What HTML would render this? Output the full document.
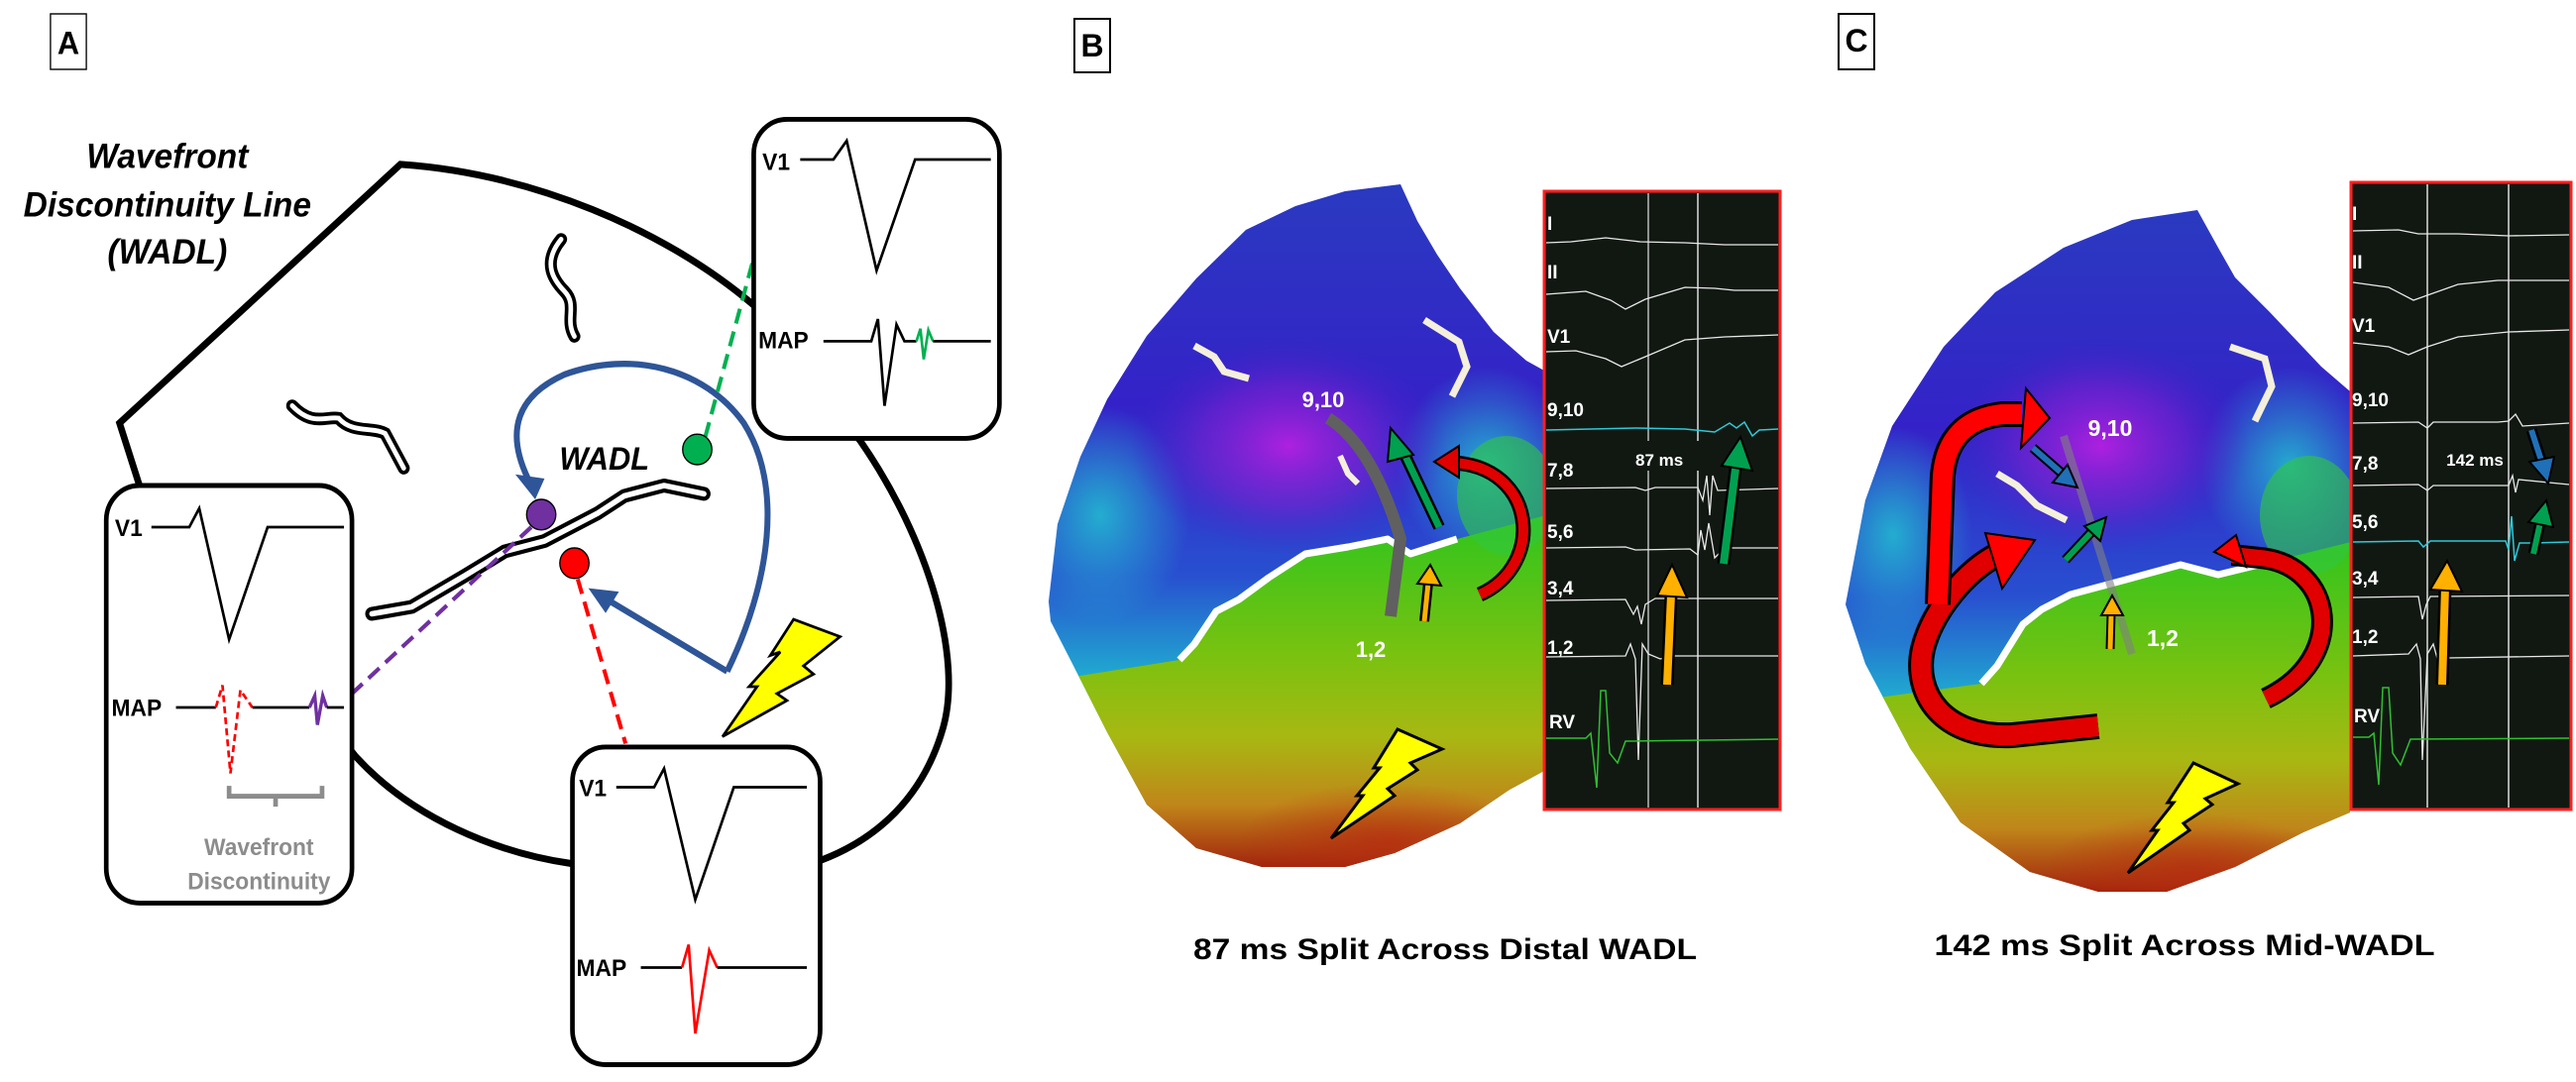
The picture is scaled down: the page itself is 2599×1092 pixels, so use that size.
<!DOCTYPE html>
<html><head><meta charset="utf-8"><style>
html,body{margin:0;padding:0;background:#fff;}
svg{display:block;}
text{font-family:"Liberation Sans",sans-serif;font-weight:bold;}
</style></head><body>
<svg width="2599" height="1092" viewBox="0 0 2599 1092" xmlns="http://www.w3.org/2000/svg">
<defs>
<linearGradient id="tgB" gradientUnits="userSpaceOnUse" x1="0" y1="186" x2="0" y2="680">
<stop offset="0" stop-color="#2a3ac0"/>
<stop offset="0.45" stop-color="#3422c8"/>
<stop offset="0.8" stop-color="#2850d0"/>
<stop offset="1" stop-color="#20a8d0"/>
</linearGradient>
<linearGradient id="bgB" gradientUnits="userSpaceOnUse" x1="0" y1="540" x2="0" y2="880">
<stop offset="0" stop-color="#38c41c"/>
<stop offset="0.35" stop-color="#78c210"/>
<stop offset="0.6" stop-color="#a8b812"/>
<stop offset="0.8" stop-color="#c0861a"/>
<stop offset="1" stop-color="#a01c0c"/>
</linearGradient>
<linearGradient id="tgC" gradientUnits="userSpaceOnUse" x1="0" y1="212" x2="0" y2="700">
<stop offset="0" stop-color="#2a3ac0"/>
<stop offset="0.45" stop-color="#3422c8"/>
<stop offset="0.8" stop-color="#2850d0"/>
<stop offset="1" stop-color="#20a8d0"/>
</linearGradient>
<linearGradient id="bgC" gradientUnits="userSpaceOnUse" x1="0" y1="560" x2="0" y2="905">
<stop offset="0" stop-color="#38c41c"/>
<stop offset="0.35" stop-color="#78c210"/>
<stop offset="0.6" stop-color="#a8b812"/>
<stop offset="0.8" stop-color="#c0861a"/>
<stop offset="1" stop-color="#a01c0c"/>
</linearGradient>
<radialGradient id="pg"><stop offset="0" stop-color="#b420e0" stop-opacity="0.95"/><stop offset="0.55" stop-color="#7a20d0" stop-opacity="0.6"/><stop offset="1" stop-color="#4020c8" stop-opacity="0"/></radialGradient>
<radialGradient id="cg"><stop offset="0" stop-color="#22c0d0" stop-opacity="0.85"/><stop offset="1" stop-color="#22c0d0" stop-opacity="0"/></radialGradient>
<radialGradient id="rg"><stop offset="0" stop-color="#b82a10" stop-opacity="0.7"/><stop offset="1" stop-color="#b82a10" stop-opacity="0"/></radialGradient>
<clipPath id="cb"><path d="M1058,607 L1067,529 L1090,461 L1117,403 L1157,339 L1207,281 L1257,232 L1307,208 L1357,193 L1413,186 L1430,223 L1450,257 L1473,291 L1507,335 L1540,364 L1558,374 L1558,778 L1523,797 L1473,831 L1407,861 L1357,875 L1273,875 L1207,856 L1157,812 L1117,739 L1080,666 L1060,627 Z"/></clipPath>
<clipPath id="cc"><path d="M1862,610 L1882,505 L1909,430 L1961,350 L2013,295 L2082,250 L2151,222 L2217,212 L2238,250 L2255,280 L2290,315 L2342,370 L2371,395 L2371,820 L2324,840 L2255,875 L2186,900 L2117,900 L2048,880 L1978,830 L1927,755 L1882,670 Z"/></clipPath>
</defs>

<!-- ===== Panel A ===== -->
<g transform="scale(0.67,0.70)">
<rect x="76" y="20" width="54" height="80" fill="#fff" stroke="#000" stroke-width="2"/>
<text x="103" y="78" font-size="46" text-anchor="middle">A</text>
<g font-style="italic" font-size="50" text-anchor="middle">
<text x="252" y="242">Wavefront</text>
<text x="252" y="312">Discontinuity Line</text>
<text x="252" y="380">(WADL)</text>
</g>
<path d="M210,700 L180,610 L603,237 C800,250 1000,330 1135,440 L1295,635 C1400,780 1450,950 1420,1050 C1390,1150 1320,1210 1237,1240 L860,1245 C750,1230 620,1180 535,1090 Z" fill="none" stroke="#000" stroke-width="10"/>
<path d="M845,345 C815,380 835,405 850,420 C870,440 850,460 865,485" fill="none" stroke="#000" stroke-width="18" stroke-linecap="round"/>
<path d="M845,345 C815,380 835,405 850,420 C870,440 850,460 865,485" fill="none" stroke="#fff" stroke-width="7" stroke-linecap="round"/>
<path d="M440,585 C470,615 490,600 510,603 C530,625 560,615 580,625 L608,675" fill="none" stroke="#000" stroke-width="18" stroke-linecap="round"/>
<path d="M440,585 C470,615 490,600 510,603 C530,625 560,615 580,625 L608,675" fill="none" stroke="#fff" stroke-width="7" stroke-linecap="round"/>
<path d="M560,885 L620,875 L700,830 L760,795 L820,780 L900,740 L940,715 L1000,700 L1060,712" fill="none" stroke="#000" stroke-width="20" stroke-linecap="round" stroke-linejoin="round"/>
<path d="M560,885 L620,875 L700,830 L760,795 L820,780 L900,740 L940,715 L1000,700 L1060,712" fill="none" stroke="#fff" stroke-width="8" stroke-linecap="round" stroke-linejoin="round"/>
<text x="910" y="677" font-size="46" font-style="italic" text-anchor="middle">WADL</text>
<path d="M1095,968 C1160,840 1180,700 1120,610 C1060,530 950,505 850,540 C780,570 760,620 795,690" fill="none" stroke="#2e5597" stroke-width="9"/>
<polygon points="776,684 820,690 806,720" fill="#2e5597"/>
<path d="M1095,968 L910,862" fill="none" stroke="#2e5597" stroke-width="9"/>
<polygon points="886,848 932,853 912,884" fill="#2e5597"/>
<line x1="800" y1="760" x2="530" y2="1000" stroke="#7030a0" stroke-width="6" stroke-dasharray="22,12"/>
<line x1="870" y1="835" x2="942" y2="1072" stroke="#ff0000" stroke-width="6" stroke-dasharray="22,12"/>
<line x1="1062" y1="630" x2="1137" y2="365" stroke="#00b050" stroke-width="6" stroke-dasharray="22,12"/>
<circle cx="815" cy="742" r="22" fill="#7030a0" stroke="#000" stroke-width="2"/>
<circle cx="865" cy="812" r="22" fill="#ff0000" stroke="#000" stroke-width="2"/>
<circle cx="1050" cy="648" r="22" fill="#00b050" stroke="#000" stroke-width="2"/>
<polygon points="1195,893 1265,918 1210,960 1225,972 1170,1000 1185,1010 1088,1062 1140,990 1128,990 1175,940 1160,945" fill="#ffff00" stroke="#000" stroke-width="4"/>
<rect x="1135" y="172" width="370" height="460" rx="50" fill="#fff" stroke="#000" stroke-width="7"/>
<text x="1148" y="245" font-size="34">V1</text>
<polyline points="1205,230 1255,230 1275,203 1320,390 1378,230 1492,230" fill="none" stroke="#000" stroke-width="4"/>
<text x="1142" y="502" font-size="34">MAP</text>
<polyline points="1240,492 1312,492 1322,460 1332,585 1350,468 1362,492 1380,492" fill="none" stroke="#000" stroke-width="4"/>
<polyline points="1380,492 1386,474 1391,518 1398,476 1405,492" fill="none" stroke="#00b050" stroke-width="4"/>
<line x1="1405" y1="492" x2="1492" y2="492" stroke="#000" stroke-width="4"/>
<rect x="160" y="700" width="370" height="602" rx="50" fill="#fff" stroke="#000" stroke-width="7"/>
<text x="173" y="773" font-size="34">V1</text>
<polyline points="228,760 285,760 300,733 345,922 403,760 518,760" fill="none" stroke="#000" stroke-width="4"/>
<text x="168" y="1032" font-size="34">MAP</text>
<line x1="265" y1="1020" x2="325" y2="1020" stroke="#000" stroke-width="4"/>
<polyline points="325,1020 335,988 347,1115 362,995 380,1020" fill="none" stroke="#ff0000" stroke-width="4" stroke-dasharray="10,6"/>
<line x1="380" y1="1020" x2="466" y2="1020" stroke="#000" stroke-width="4"/>
<polyline points="466,1020 474,1003 478,1045 486,1003 492,1020" fill="none" stroke="#7030a0" stroke-width="5"/>
<line x1="492" y1="1020" x2="518" y2="1020" stroke="#000" stroke-width="4"/>
<polyline points="345,1133 345,1148 485,1148 485,1133" fill="none" stroke="#8c8c8c" stroke-width="7"/>
<line x1="415" y1="1148" x2="415" y2="1163" stroke="#8c8c8c" stroke-width="7"/>
<text x="390" y="1233" font-size="34" fill="#8c8c8c" text-anchor="middle">Wavefront</text>
<text x="390" y="1282" font-size="34" fill="#8c8c8c" text-anchor="middle">Discontinuity</text>
<rect x="862" y="1077" width="373" height="458" rx="50" fill="#fff" stroke="#000" stroke-width="7"/>
<text x="872" y="1148" font-size="34">V1</text>
<polyline points="928,1135 985,1135 1000,1108 1047,1297 1105,1135 1215,1135" fill="none" stroke="#000" stroke-width="4"/>
<text x="868" y="1407" font-size="34">MAP</text>
<polyline points="965,1395 1027,1395" fill="none" stroke="#000" stroke-width="4"/>
<polyline points="1027,1395 1037,1362 1047,1490 1068,1370 1080,1395" fill="none" stroke="#ff0000" stroke-width="4"/>
<line x1="1080" y1="1395" x2="1215" y2="1395" stroke="#000" stroke-width="4"/>
</g>

<!-- ===== Panel B ===== -->
<rect x="1084" y="19" width="36" height="54" fill="#fff" stroke="#000" stroke-width="2"/>
<text x="1102" y="57" font-size="32" text-anchor="middle">B</text>
<g clip-path="url(#cb)">
<rect x="1050" y="180" width="520" height="700" fill="url(#tgB)"/>
<ellipse cx="1110" cy="520" rx="90" ry="110" fill="url(#cg)"/>
<ellipse cx="1500" cy="470" rx="90" ry="100" fill="url(#cg)"/>
<ellipse cx="1300" cy="450" rx="160" ry="110" fill="url(#pg)"/>
<path d="M1040,690 L1190,666 L1227,617 L1280,583 L1317,559 L1400,544 L1423,559 L1470,544 L1560,520 L1560,900 L1040,900 Z" fill="url(#bgB)"/>
<ellipse cx="1520" cy="500" rx="50" ry="60" fill="#30c840" opacity="0.6"/>
<ellipse cx="1400" cy="850" rx="150" ry="60" fill="url(#rg)"/>
</g>
<path d="M1190,666 L1205,650 L1227,617 L1250,605 L1280,583 L1317,559 L1360,552 L1400,544 L1423,559 L1470,544" fill="none" stroke="#fff" stroke-width="7" stroke-linejoin="round"/>
<path d="M1205,349 L1225,360 L1235,375 L1260,382" fill="none" stroke="#f4f0dc" stroke-width="7"/>
<path d="M1437,323 L1472,345 L1480,370 L1465,400" fill="none" stroke="#f4f0dc" stroke-width="7"/>
<path d="M1352,460 L1360,478 L1370,488" fill="none" stroke="#f4f0dc" stroke-width="6"/>
<path d="M1340,422 Q1385,450 1413,544 L1403,622" fill="none" stroke="#606060" stroke-width="12"/>
<text x="1335" y="411" font-size="22" fill="#fff" text-anchor="middle">9,10</text>
<text x="1383" y="663" font-size="22" fill="#fff" text-anchor="middle">1,2</text>
<path d="M1493,600 C1560,570 1550,470 1465,467" fill="none" stroke="#000" stroke-width="15"/>
<path d="M1493,600 C1560,570 1550,470 1465,467" fill="none" stroke="#e00000" stroke-width="10"/>
<polygon points="1447,466 1472,450 1472,482" fill="#e00000" stroke="#000" stroke-width="2"/>
<line x1="1452" y1="532" x2="1414" y2="452" stroke="#000" stroke-width="12"/>
<line x1="1452" y1="532" x2="1414" y2="452" stroke="#00a050" stroke-width="7"/>
<polygon points="1403,432 1426,459 1400,466" fill="#00a050" stroke="#000" stroke-width="2"/>
<line x1="1437" y1="627" x2="1441" y2="588" stroke="#000" stroke-width="10"/>
<line x1="1437" y1="627" x2="1441" y2="588" stroke="#ffb000" stroke-width="5"/>
<polygon points="1443,570 1454,591 1430,589" fill="#ffb000" stroke="#000" stroke-width="2"/>
<polygon points="1410,736 1455,756 1423,770 1430,777 1400,796 1407,803 1343,846 1375,803 1369,803 1392,775 1386,775" fill="#ffff00" stroke="#000" stroke-width="3"/>
<rect x="1558" y="193" width="238" height="624" fill="#111812" stroke="#ff2020" stroke-width="3"/>
<line x1="1663" y1="195" x2="1663" y2="815" stroke="#bbb" stroke-width="1.5"/>
<line x1="1713" y1="195" x2="1713" y2="815" stroke="#ddd" stroke-width="1.5"/>
<rect x="1640" y="445" width="80" height="30" fill="#111812"/>
<g fill="#fff" font-size="19">
<text x="1561" y="232">I</text><text x="1561" y="281">II</text><text x="1561" y="346">V1</text>
<text x="1561" y="420">9,10</text><text x="1561" y="481">7,8</text><text x="1561" y="543">5,6</text>
<text x="1561" y="600">3,4</text><text x="1561" y="660">1,2</text><text x="1563" y="735">RV</text>
<text x="1650" y="470" font-size="17">87 ms</text>
</g>
<g fill="none" stroke="#e8e8e8" stroke-width="1.3">
<polyline points="1560,245 1585,244 1620,240 1655,244 1700,245 1740,247 1794,247"/>
<polyline points="1560,297 1600,294 1625,303 1640,312 1660,302 1700,290 1730,291 1750,293 1794,293"/>
<polyline points="1560,355 1590,354 1620,362 1636,370 1660,360 1700,343 1740,340 1794,338"/>
<polyline points="1560,493 1650,492 1660,495 1670,492 1713,492 1718,505 1722,480 1725,520 1728,480 1733,495 1794,493"/>
<polyline points="1560,553 1640,552 1650,555 1705,554 1713,560 1716,535 1720,555 1724,528 1730,563 1740,553 1794,553"/>
<polyline points="1560,606 1640,605 1648,620 1652,612 1656,630 1660,610 1670,604 1794,604"/>
<polyline points="1560,663 1640,662 1645,650 1650,665 1653,767 1657,650 1663,660 1675,665 1690,662 1794,662"/>
</g>
<polyline points="1560,434 1650,432 1700,433 1730,436 1745,427 1752,432 1760,426 1768,440 1775,434 1794,433" fill="none" stroke="#30c8d8" stroke-width="1.5"/>
<polyline points="1560,745 1600,745 1605,740 1611,795 1615,697 1620,697 1624,760 1632,770 1640,748 1794,746" fill="none" stroke="#30c030" stroke-width="1.5"/>
<line x1="1682" y1="691" x2="1686" y2="600" stroke="#000" stroke-width="13"/>
<line x1="1682" y1="691" x2="1686" y2="600" stroke="#ffb000" stroke-width="8"/>
<polygon points="1687,570 1702,603 1672,601" fill="#ffb000" stroke="#000" stroke-width="2"/>
<line x1="1739" y1="569" x2="1752" y2="465" stroke="#000" stroke-width="13"/>
<line x1="1739" y1="569" x2="1752" y2="465" stroke="#00a050" stroke-width="8"/>
<polygon points="1756,441 1768,475 1737,470" fill="#00a050" stroke="#000" stroke-width="2"/>
<text x="1458" y="968" font-size="30" text-anchor="middle" textLength="508" lengthAdjust="spacingAndGlyphs">87 ms Split Across Distal WADL</text>

<!-- ===== Panel C ===== -->
<rect x="1855" y="14" width="36" height="56" fill="#fff" stroke="#000" stroke-width="2"/>
<text x="1873" y="52" font-size="32" text-anchor="middle">C</text>
<g clip-path="url(#cc)">
<rect x="1850" y="200" width="530" height="710" fill="url(#tgC)"/>
<ellipse cx="1910" cy="540" rx="80" ry="110" fill="url(#cg)"/>
<ellipse cx="2310" cy="470" rx="90" ry="100" fill="url(#cg)"/>
<ellipse cx="2120" cy="450" rx="150" ry="110" fill="url(#pg)"/>
<path d="M1850,710 L1999,690 L2041,630 L2089,600 L2145,585 L2200,570 L2238,580 L2279,570 L2380,545 L2380,910 L1850,910 Z" fill="url(#bgC)"/>
<ellipse cx="2330" cy="520" rx="50" ry="60" fill="#30c840" opacity="0.6"/>
<ellipse cx="2210" cy="880" rx="150" ry="60" fill="url(#rg)"/>
</g>
<path d="M1999,690 L2015,672 L2041,630 L2060,615 L2089,600 L2145,585 L2200,570 L2238,580 L2279,570" fill="none" stroke="#fff" stroke-width="7" stroke-linejoin="round"/>
<path d="M2015,478 L2035,490 L2055,510 L2085,525" fill="none" stroke="#f4f0dc" stroke-width="7"/>
<path d="M2250,350 L2285,362 L2292,390 L2275,425" fill="none" stroke="#f4f0dc" stroke-width="7"/>
<path d="M2082,440 L2151,660" fill="none" stroke="#808080" stroke-width="8" opacity="0.6"/>
<text x="2129" y="440" font-size="23" fill="#fff" text-anchor="middle">9,10</text>
<text x="2182" y="652" font-size="23" fill="#fff" text-anchor="middle">1,2</text>
<g fill="none" stroke-linejoin="round">
<path d="M2117,733 L2030,742 C1960,745 1930,700 1940,655 C1950,615 1985,575 2015,560" stroke="#000" stroke-width="26"/>
<path d="M2117,733 L2030,742 C1960,745 1930,700 1940,655 C1950,615 1985,575 2015,560" stroke="#e00000" stroke-width="20"/>
<path d="M1955,610 L1960,480 Q1965,424 2020,418 L2040,418" stroke="#000" stroke-width="26"/>
<path d="M1955,610 L1960,480 Q1965,424 2020,418 L2040,418" stroke="#ff0000" stroke-width="20"/>
<path d="M2286,705 C2370,665 2355,570 2280,563 L2252,560" stroke="#000" stroke-width="22"/>
<path d="M2286,705 C2370,665 2355,570 2280,563 L2252,560" stroke="#e00000" stroke-width="16"/>
</g>
<polygon points="2044,392 2068,422 2039,452" fill="#ff0000" stroke="#000" stroke-width="2"/>
<polygon points="2003,538 2053,545 2020,594" fill="#ff0000" stroke="#000" stroke-width="2"/>
<polygon points="2256,540 2234,557 2266,572" fill="#ff0000" stroke="#000" stroke-width="2"/>
<line x1="2051" y1="452" x2="2083" y2="480" stroke="#000" stroke-width="10"/>
<line x1="2051" y1="452" x2="2083" y2="480" stroke="#2070b8" stroke-width="6"/>
<polygon points="2096,492 2071,487 2086,469" fill="#2070b8" stroke="#000" stroke-width="2"/>
<line x1="2084" y1="565" x2="2112" y2="535" stroke="#000" stroke-width="10"/>
<line x1="2084" y1="565" x2="2112" y2="535" stroke="#00a050" stroke-width="6"/>
<polygon points="2125,522 2119,546 2103,531" fill="#00a050" stroke="#000" stroke-width="2"/>
<line x1="2129" y1="655" x2="2130" y2="620" stroke="#000" stroke-width="9"/>
<line x1="2129" y1="655" x2="2130" y2="620" stroke="#ffb000" stroke-width="5"/>
<polygon points="2131,601 2142,621 2120,621" fill="#ffb000" stroke="#000" stroke-width="2"/>
<polygon points="2213,770 2258,791 2225,806 2232,812 2203,831 2209,838 2147,881 2177,838 2171,838 2193,810 2187,810" fill="#ffff00" stroke="#000" stroke-width="3"/>
<rect x="2372" y="184" width="222" height="633" fill="#111812" stroke="#ff2020" stroke-width="3"/>
<line x1="2449" y1="186" x2="2449" y2="815" stroke="#ddd" stroke-width="1.5"/>
<line x1="2531" y1="186" x2="2531" y2="815" stroke="#ddd" stroke-width="1.5"/>
<rect x="2455" y="450" width="72" height="28" fill="#111812"/>
<g fill="#fff" font-size="19">
<text x="2373" y="222">I</text><text x="2373" y="271">II</text><text x="2373" y="335">V1</text>
<text x="2373" y="410">9,10</text><text x="2373" y="474">7,8</text><text x="2373" y="533">5,6</text>
<text x="2373" y="590">3,4</text><text x="2373" y="649">1,2</text><text x="2375" y="729">RV</text>
<text x="2497" y="470" font-size="17" text-anchor="middle">142 ms</text>
</g>
<g fill="none" stroke="#e8e8e8" stroke-width="1.3">
<polyline points="2374,233 2420,232 2440,236 2480,236 2531,238 2592,237"/>
<polyline points="2374,285 2410,290 2435,303 2449,298 2480,287 2520,283 2592,283"/>
<polyline points="2374,346 2410,350 2430,358 2449,350 2480,340 2531,335 2592,333"/>
<polyline points="2374,427 2440,426 2449,432 2455,426 2520,426 2531,425 2538,418 2545,430 2592,427"/>
<polyline points="2374,490 2440,489 2449,495 2455,490 2531,490 2535,480 2538,497 2541,484 2592,489"/>
<polyline points="2374,603 2440,602 2444,625 2448,610 2452,602 2592,601"/>
<polyline points="2374,662 2430,660 2438,650 2442,665 2444,767 2449,660 2455,650 2460,668 2470,664 2592,662"/>
</g>
<polyline points="2374,547 2440,546 2445,552 2452,546 2528,546 2531,555 2534,521 2537,566 2542,548 2555,548 2592,547" fill="none" stroke="#30c8d8" stroke-width="1.5"/>
<polyline points="2374,744 2390,744 2395,740 2400,792 2404,694 2410,694 2414,760 2422,772 2432,746 2592,745" fill="none" stroke="#30c030" stroke-width="1.5"/>
<line x1="2464" y1="691" x2="2467" y2="592" stroke="#000" stroke-width="13"/>
<line x1="2464" y1="691" x2="2467" y2="592" stroke="#ffb000" stroke-width="8"/>
<polygon points="2469,566 2484,597 2452,595" fill="#ffb000" stroke="#000" stroke-width="2"/>
<line x1="2554" y1="434" x2="2565" y2="468" stroke="#000" stroke-width="11"/>
<line x1="2554" y1="434" x2="2565" y2="468" stroke="#2070b8" stroke-width="6"/>
<polygon points="2571,488 2552,466 2577,461" fill="#2070b8" stroke="#000" stroke-width="2"/>
<line x1="2556" y1="559" x2="2563" y2="527" stroke="#000" stroke-width="11"/>
<line x1="2556" y1="559" x2="2563" y2="527" stroke="#00a050" stroke-width="6"/>
<polygon points="2569,505 2576,532 2551,527" fill="#00a050" stroke="#000" stroke-width="2"/>
<text x="2204" y="964" font-size="30" text-anchor="middle" textLength="505" lengthAdjust="spacingAndGlyphs">142 ms Split Across Mid-WADL</text>
</svg>
</body></html>
